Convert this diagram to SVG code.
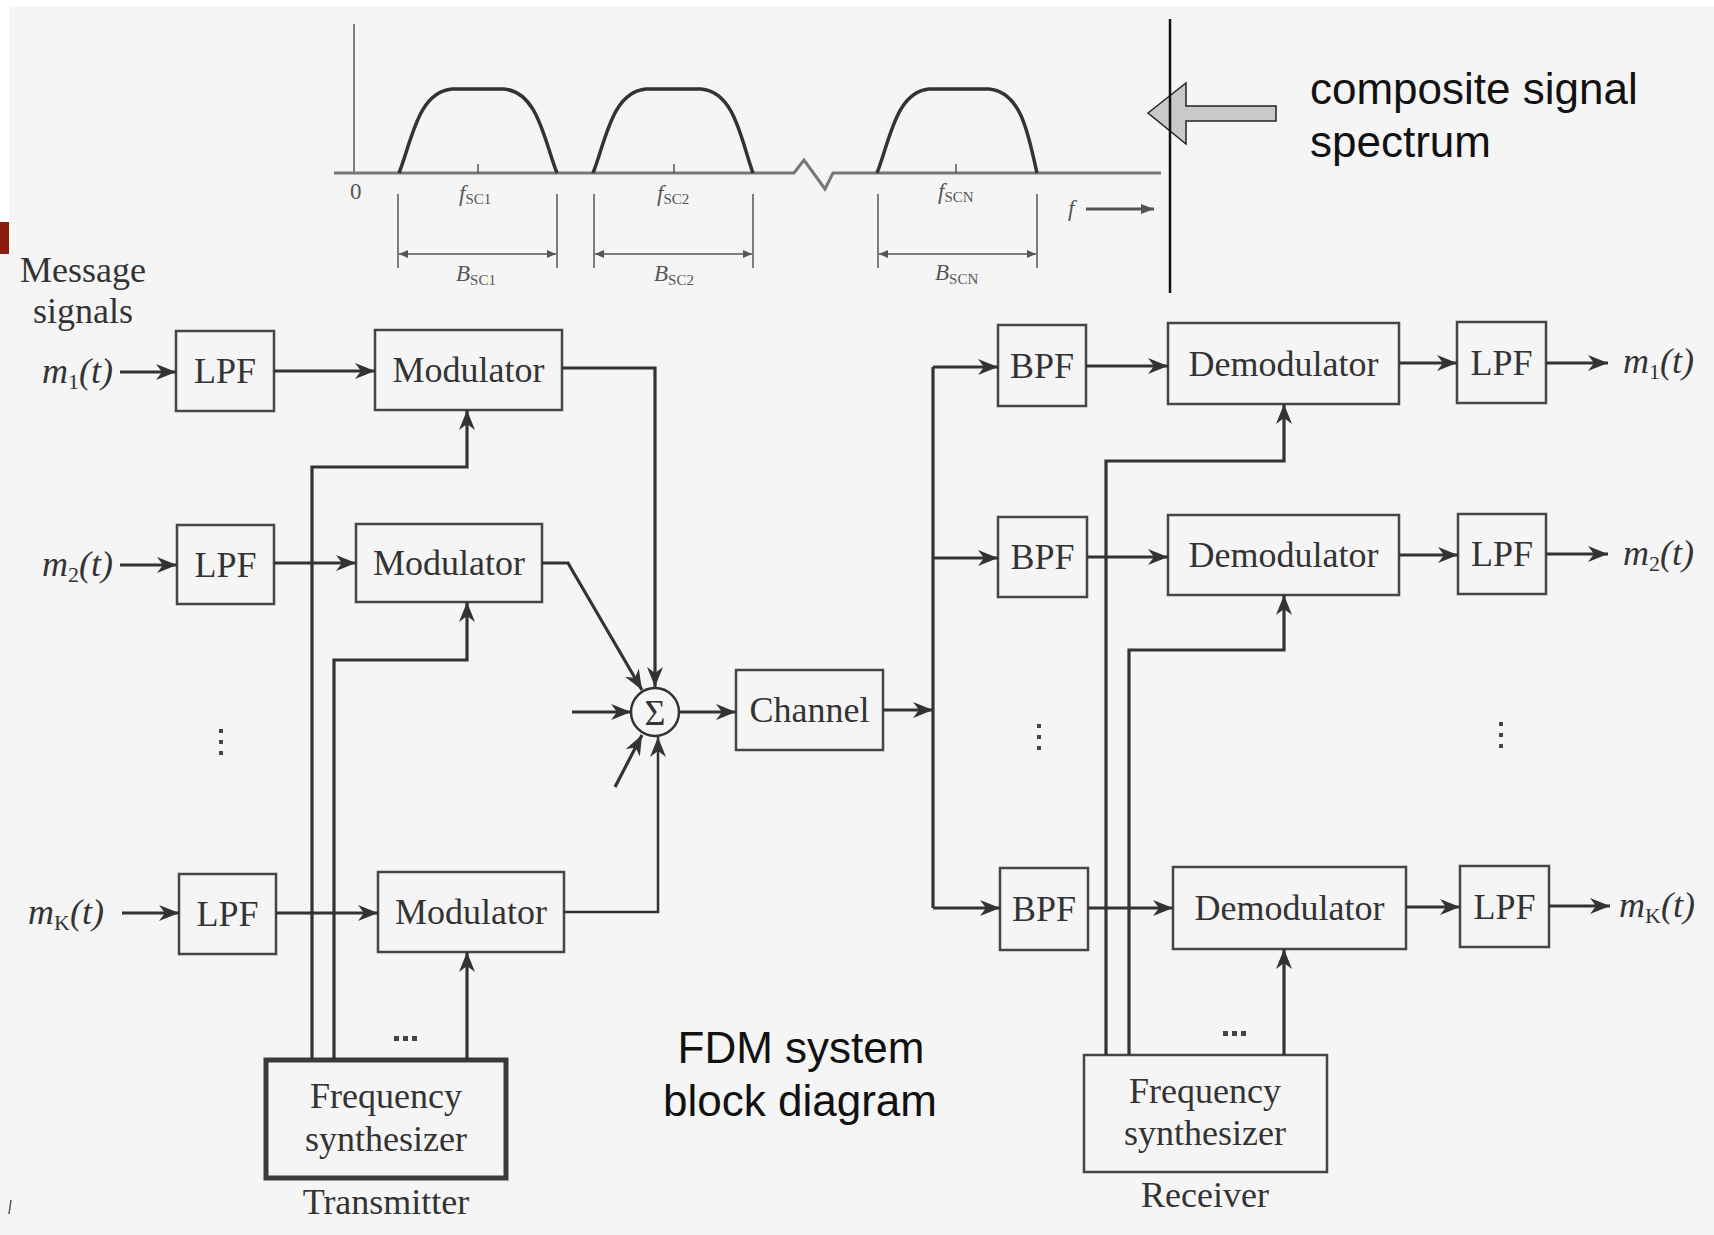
<svg xmlns="http://www.w3.org/2000/svg" width="1714" height="1235" viewBox="0 0 1714 1235">
<defs>
<style>
.box{fill:none;stroke:#464646;stroke-width:2.5}
.tbox{fill:none;stroke:#3a3a3a;stroke-width:5}
.lbl{font-family:"Liberation Serif","Times New Roman",serif;font-size:36px;fill:#333;text-anchor:middle}
.sig{font-family:"Liberation Serif","Times New Roman",serif;font-size:36px;fill:#333}
.it{font-style:italic}
.sub{font-size:22px;font-style:normal}
.wire{fill:none;stroke:#333;stroke-width:3.2}
.thin{fill:none;stroke:#555;stroke-width:1.5}
.spec{font-family:"Liberation Serif","Times New Roman",serif;font-size:23px;fill:#555}
.ssub{font-size:15px;font-style:normal}
.sans{font-family:"Liberation Sans",Arial,sans-serif;font-size:44px;fill:#111}
.dot{fill:#444}
</style>
<marker id="ah" markerUnits="userSpaceOnUse" markerWidth="22" markerHeight="16" refX="20" refY="8" orient="auto">
<path d="M0,0 L20,8 L0,16 L6,8 z" fill="#333"/>
</marker>
<marker id="sa" markerUnits="userSpaceOnUse" markerWidth="10" markerHeight="8" refX="9" refY="4" orient="auto-start-reverse">
<path d="M0,0 L9,4 L0,8 z" fill="#555"/>
</marker>
<marker id="fa" markerUnits="userSpaceOnUse" markerWidth="14" markerHeight="10" refX="13" refY="5" orient="auto">
<path d="M0,0 L13,5 L0,10 z" fill="#555"/>
</marker>
</defs>
<rect x="0" y="0" width="1714" height="1235" fill="#f5f5f5"/>
<rect x="0" y="0" width="1714" height="6" fill="#ffffff"/>
<rect x="0" y="0" width="9" height="222" fill="#ffffff"/>
<rect x="0" y="222" width="9" height="32" fill="#8b1c0c"/>
<line x1="11" y1="1200" x2="9" y2="1214" stroke="#555" stroke-width="1.5"/>

<g id="spectrum">
<line x1="354" y1="24" x2="354" y2="173" stroke="#555" stroke-width="1.5"/>
<path d="M334,173 L794,173 L804,160 L825,189 L833,173 L1161,173" fill="none" stroke="#777" stroke-width="3"/>
<path d="M399,173 C412,140 418,92 452,89 L504,89 C538,92 544,140 557,173" fill="none" stroke="#333" stroke-width="3.5"/>
<path d="M593,173 C606,140 612,92 646,89 L701,89 C735,92 741,140 753,173" fill="none" stroke="#333" stroke-width="3.5"/>
<path d="M877,173 C890,140 896,92 929,89 L989,89 C1023,92 1029,140 1037,173" fill="none" stroke="#333" stroke-width="3.5"/>
<path d="M478,164 V173 M674,164 V173 M956,164 V173" class="thin"/>
<path d="M398,194 V268 M557,194 V268 M594,194 V268 M753,194 V268 M878,194 V268 M1037,194 V268" class="thin"/>
<line x1="399" y1="254" x2="556" y2="254" class="thin" marker-start="url(#sa)" marker-end="url(#sa)"/>
<line x1="595" y1="254" x2="752" y2="254" class="thin" marker-start="url(#sa)" marker-end="url(#sa)"/>
<line x1="879" y1="254" x2="1036" y2="254" class="thin" marker-start="url(#sa)" marker-end="url(#sa)"/>
<text class="spec" x="350" y="199">0</text>
<text class="spec it" x="459" y="201">f<tspan class="ssub" dy="3">SC1</tspan></text>
<text class="spec it" x="657" y="201">f<tspan class="ssub" dy="3">SC2</tspan></text>
<text class="spec it" x="938" y="199">f<tspan class="ssub" dy="3">SCN</tspan></text>
<text class="spec it" x="456" y="281">B<tspan class="ssub" dy="4">SC1</tspan></text>
<text class="spec it" x="654" y="281">B<tspan class="ssub" dy="4">SC2</tspan></text>
<text class="spec it" x="935" y="280">B<tspan class="ssub" dy="4">SCN</tspan></text>
<text class="spec it" x="1068" y="216">f</text>
<line x1="1086" y1="209" x2="1154" y2="209" stroke="#555" stroke-width="3" marker-end="url(#fa)"/>
<polygon points="1148,113 1186,83 1186,106 1276,106 1276,121 1186,121 1186,144" fill="#c9c9c9" stroke="#222" stroke-width="1.5"/>
<line x1="1170" y1="19" x2="1170" y2="293" stroke="#111" stroke-width="2.5"/>
<text class="sans" x="1310" y="104">composite signal</text>
<text class="sans" x="1310" y="157">spectrum</text>
</g>

<g id="message-label">
<text class="lbl" x="83" y="282">Message</text>
<text class="lbl" x="83" y="323">signals</text>
</g>

<g id="inputs">
<text class="sig it" x="42" y="383">m<tspan class="sub" dy="6">1</tspan><tspan dy="-6">(t)</tspan></text>
<text class="sig it" x="42" y="576">m<tspan class="sub" dy="6">2</tspan><tspan dy="-6">(t)</tspan></text>
<text class="sig it" x="28" y="924">m<tspan class="sub" dy="6">K</tspan><tspan dy="-6">(t)</tspan></text>
</g>

<g id="lpf-tx-1"><rect class="box" x="176" y="331" width="98" height="80"/><text class="lbl" x="225" y="383">LPF</text></g>
<g id="lpf-tx-2"><rect class="box" x="177" y="525" width="97" height="79"/><text class="lbl" x="225.5" y="577">LPF</text></g>
<g id="lpf-tx-k"><rect class="box" x="179" y="874" width="97" height="80"/><text class="lbl" x="227.5" y="926">LPF</text></g>

<g id="mod-1"><rect class="box" x="375" y="330" width="187" height="80"/><text class="lbl" x="468.5" y="382">Modulator</text></g>
<g id="mod-2"><rect class="box" x="356" y="524" width="186" height="78"/><text class="lbl" x="449" y="575">Modulator</text></g>
<g id="mod-k"><rect class="box" x="378" y="872" width="186" height="80"/><text class="lbl" x="471" y="924">Modulator</text></g>

<g id="sum">
<circle cx="655" cy="712" r="24" fill="none" stroke="#333" stroke-width="2.5"/>
<text class="lbl" x="655" y="725" style="font-size:36px">Σ</text>
</g>

<g id="channel"><rect class="box" x="736" y="670" width="147" height="80"/><text class="lbl" x="809.5" y="722">Channel</text></g>

<g id="tx-synth">
<rect class="tbox" x="266" y="1060" width="240" height="118"/>
<text class="lbl" x="386" y="1108">Frequency</text>
<text class="lbl" x="386" y="1151">synthesizer</text>
<text class="lbl" x="386" y="1214">Transmitter</text>
</g>

<g id="bpf-1"><rect class="box" x="998" y="325" width="88" height="81"/><text class="lbl" x="1042" y="378">BPF</text></g>
<g id="bpf-2"><rect class="box" x="998" y="517" width="89" height="80"/><text class="lbl" x="1042.5" y="569">BPF</text></g>
<g id="bpf-k"><rect class="box" x="1000" y="868" width="88" height="82"/><text class="lbl" x="1044" y="921">BPF</text></g>

<g id="demod-1"><rect class="box" x="1168" y="323" width="231" height="81"/><text class="lbl" x="1283.5" y="376">Demodulator</text></g>
<g id="demod-2"><rect class="box" x="1168" y="515" width="231" height="80"/><text class="lbl" x="1283.5" y="567">Demodulator</text></g>
<g id="demod-k"><rect class="box" x="1173" y="867" width="233" height="82"/><text class="lbl" x="1289.5" y="920">Demodulator</text></g>

<g id="lpf-rx-1"><rect class="box" x="1457" y="322" width="89" height="81"/><text class="lbl" x="1501.5" y="375">LPF</text></g>
<g id="lpf-rx-2"><rect class="box" x="1458" y="514" width="88" height="80"/><text class="lbl" x="1502" y="566">LPF</text></g>
<g id="lpf-rx-k"><rect class="box" x="1460" y="866" width="89" height="81"/><text class="lbl" x="1504.5" y="919">LPF</text></g>

<g id="outputs">
<text class="sig it" x="1623" y="373">m<tspan class="sub" dy="6">1</tspan><tspan dy="-6">(t)</tspan></text>
<text class="sig it" x="1623" y="565">m<tspan class="sub" dy="6">2</tspan><tspan dy="-6">(t)</tspan></text>
<text class="sig it" x="1619" y="917">m<tspan class="sub" dy="6">K</tspan><tspan dy="-6">(t)</tspan></text>
</g>

<g id="rx-synth">
<rect class="box" x="1084" y="1055" width="243" height="117"/>
<text class="lbl" x="1205" y="1103">Frequency</text>
<text class="lbl" x="1205" y="1145">synthesizer</text>
<text class="lbl" x="1205" y="1207">Receiver</text>
</g>

<g id="title">
<text class="sans" x="801" y="1063" text-anchor="middle">FDM system</text>
<text class="sans" x="800" y="1116" text-anchor="middle">block diagram</text>
</g>

<g id="ellipses">
<rect class="dot" x="219" y="729" width="4" height="4"/><rect class="dot" x="219" y="740" width="4" height="4"/><rect class="dot" x="219" y="751" width="4" height="4"/>
<rect class="dot" x="1037" y="724" width="4" height="4"/><rect class="dot" x="1037" y="735" width="4" height="4"/><rect class="dot" x="1037" y="746" width="4" height="4"/>
<rect class="dot" x="1499" y="722" width="4" height="4"/><rect class="dot" x="1499" y="733" width="4" height="4"/><rect class="dot" x="1499" y="744" width="4" height="4"/>
<rect class="dot" x="394" y="1036" width="5" height="5"/><rect class="dot" x="403" y="1036" width="5" height="5"/><rect class="dot" x="412" y="1036" width="5" height="5"/>
<rect class="dot" x="1223" y="1031" width="5" height="5"/><rect class="dot" x="1232" y="1031" width="5" height="5"/><rect class="dot" x="1241" y="1031" width="5" height="5"/>
</g>

<g id="connectors">
<path class="wire" d="M120,372 H176" marker-end="url(#ah)"/>
<path class="wire" d="M274,371 H375" marker-end="url(#ah)"/>
<path class="wire" d="M120,565 H177" marker-end="url(#ah)"/>
<path class="wire" d="M274,563 H356" marker-end="url(#ah)"/>
<path class="wire" d="M122,913 H179" marker-end="url(#ah)"/>
<path class="wire" d="M276,913 H378" marker-end="url(#ah)"/>
<path class="wire" d="M562,368 H655 V687" marker-end="url(#ah)"/>
<path class="wire" d="M542,563 H568 L642,690" marker-end="url(#ah)"/>
<path class="wire" d="M564,912 H658 V737" marker-end="url(#ah)" style="stroke-width:2.5"/>
<path class="wire" d="M572,712 H631" marker-end="url(#ah)"/>
<path class="wire" d="M615,787 L642,735" marker-end="url(#ah)"/>
<path class="wire" d="M679,712 H736" marker-end="url(#ah)"/>
<path class="wire" d="M883,710 H933" marker-end="url(#ah)"/>
<path class="wire" d="M933,367 V908"/>
<path class="wire" d="M933,367 H998" marker-end="url(#ah)"/>
<path class="wire" d="M933,558 H998" marker-end="url(#ah)"/>
<path class="wire" d="M933,908 H1000" marker-end="url(#ah)"/>
<path class="wire" d="M1086,366 H1168" marker-end="url(#ah)"/>
<path class="wire" d="M1087,557 H1168" marker-end="url(#ah)"/>
<path class="wire" d="M1088,908 H1173" marker-end="url(#ah)"/>
<path class="wire" d="M1399,363 H1457" marker-end="url(#ah)"/>
<path class="wire" d="M1399,555 H1458" marker-end="url(#ah)"/>
<path class="wire" d="M1406,907 H1460" marker-end="url(#ah)"/>
<path class="wire" d="M1546,363 H1608" marker-end="url(#ah)"/>
<path class="wire" d="M1546,554 H1608" marker-end="url(#ah)"/>
<path class="wire" d="M1549,906 H1610" marker-end="url(#ah)"/>
<path class="wire" d="M312,1060 V467 H467 V410" marker-end="url(#ah)"/>
<path class="wire" d="M334,1060 V660 H467 V602" marker-end="url(#ah)"/>
<path class="wire" d="M467,1060 V952" marker-end="url(#ah)"/>
<path class="wire" d="M1106,1055 V461 H1284 V404" marker-end="url(#ah)"/>
<path class="wire" d="M1129,1055 V650 H1284 V595" marker-end="url(#ah)"/>
<path class="wire" d="M1284,1055 V949" marker-end="url(#ah)"/>
</g>
</svg>
